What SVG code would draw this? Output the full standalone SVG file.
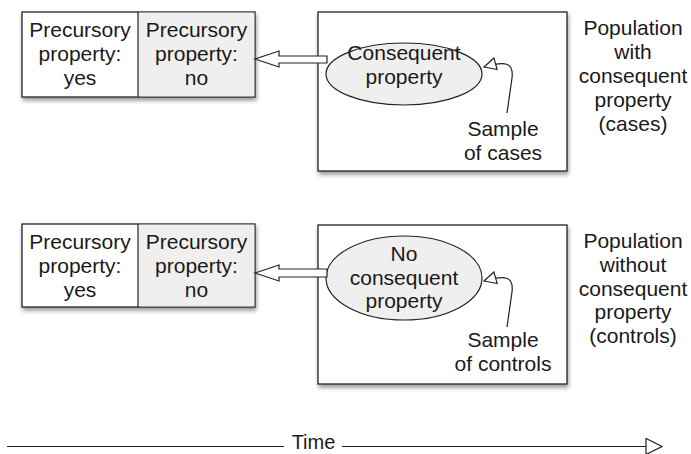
<svg xmlns="http://www.w3.org/2000/svg" width="691" height="454" viewBox="0 0 691 454">
<defs>
<filter id="sh" x="-10%" y="-10%" width="130%" height="140%">
<feDropShadow dx="1" dy="3" stdDeviation="2" flood-color="#000" flood-opacity="0.4"/>
</filter>
<marker id="tri" viewBox="0 0 14 14" refX="13" refY="7" markerWidth="14" markerHeight="14" markerUnits="userSpaceOnUse" orient="auto">
<path d="M1,1 L13,7 L1,13 Z" fill="#fff" stroke="#222" stroke-width="1.2"/>
</marker>
<marker id="tri2" viewBox="0 0 18 18" refX="1" refY="9" markerWidth="18" markerHeight="18" markerUnits="userSpaceOnUse" orient="auto">
<path d="M1,1 L17,9 L1,17 Z" fill="#fff" stroke="#222" stroke-width="1.2"/>
</marker>
</defs>
<style>
text{font-family:"Liberation Sans",Arial,sans-serif;font-size:21px;fill:#1a1a1a;text-anchor:middle}
.box{fill:#fff;stroke:#222;stroke-width:1.3}
.gray{fill:#efefef;stroke:none}
.ell{fill:#efefef;stroke:#222;stroke-width:1.2}
.blk{fill:#fff;stroke:#222;stroke-width:1.2;stroke-linejoin:miter}
.ln{fill:none;stroke:#222;stroke-width:1.2}
</style>
<rect width="691" height="454" fill="#fff"/>

<g id="cases-precursor">
<g filter="url(#sh)"><rect class="box" x="22" y="12" width="233" height="85"/></g>
<rect class="gray" x="138.5" y="12.7" width="115.8" height="83.6"/>
<line class="ln" x1="138" y1="12" x2="138" y2="97"/>
<text x="80" y="37"><tspan x="80">Precursory</tspan><tspan x="80" dy="24">property:</tspan><tspan x="80" dy="24">yes</tspan></text>
<text x="196.5" y="37"><tspan x="196.5">Precursory</tspan><tspan x="196.5" dy="24">property:</tspan><tspan x="196.5" dy="24">no</tspan></text>
</g>

<g id="cases-population">
<g filter="url(#sh)"><rect class="box" x="318" y="12" width="249" height="159"/></g>
<text x="633" y="35"><tspan x="633">Population</tspan><tspan x="633" dy="24">with</tspan><tspan x="633" dy="24">consequent</tspan><tspan x="633" dy="24">property</tspan><tspan x="633" dy="24">(cases)</tspan></text>
</g>

<g id="cases-consequent">
<ellipse class="ell" cx="404" cy="74" rx="78" ry="31"/>
<text x="404" y="60"><tspan x="404">Consequent</tspan><tspan x="404" dy="23.5">property</tspan></text>
</g>

<g id="cases-sample">
<text x="503" y="136"><tspan x="503">Sample</tspan><tspan x="503" dy="24">of cases</tspan></text>
</g>

<g id="controls-precursor">
<g filter="url(#sh)"><rect class="box" x="22" y="224" width="233" height="83"/></g>
<rect class="gray" x="138.5" y="224.7" width="115.8" height="81.6"/>
<line class="ln" x1="138" y1="224" x2="138" y2="307"/>
<text x="80" y="249"><tspan x="80">Precursory</tspan><tspan x="80" dy="24">property:</tspan><tspan x="80" dy="24">yes</tspan></text>
<text x="196.5" y="249"><tspan x="196.5">Precursory</tspan><tspan x="196.5" dy="24">property:</tspan><tspan x="196.5" dy="24">no</tspan></text>
</g>

<g id="controls-population">
<g filter="url(#sh)"><rect class="box" x="318" y="225" width="249" height="159"/></g>
<text x="633" y="248"><tspan x="633">Population</tspan><tspan x="633" dy="24">without</tspan><tspan x="633" dy="23.5">consequent</tspan><tspan x="633" dy="23.5">property</tspan><tspan x="633" dy="23.5">(controls)</tspan></text>
</g>

<g id="controls-consequent">
<ellipse class="ell" cx="404" cy="278" rx="78" ry="42"/>
<text x="404" y="260.5"><tspan x="404">No</tspan><tspan x="404" dy="24">consequent</tspan><tspan x="404" dy="23.5">property</tspan></text>
</g>

<g id="controls-sample">
<text x="503" y="347"><tspan x="503">Sample</tspan><tspan x="503" dy="24">of controls</tspan></text>
</g>

<g id="connectors">
<polygon class="blk" points="255,59 279,51 279,56 327,56 327,63 279,63 279,67"/>
<polygon class="blk" points="255,273 279,265 279,269 327,269 327,277 279,277 279,281"/>
<path class="ln" d="M507,113 L512,78 C514,62 505,61 484,67" marker-end="url(#tri)"/>
<path class="ln" d="M507,327 L512,292 C514,276 505,275 484,281" marker-end="url(#tri)"/>
<line class="ln" x1="7" y1="446.5" x2="284" y2="446.5"/>
<line class="ln" x1="342" y1="446.5" x2="646" y2="446.5" marker-end="url(#tri2)"/>
</g>

<g id="time-label">
<text x="313.5" y="449" style="font-size:20px">Time</text>
</g>
</svg>
